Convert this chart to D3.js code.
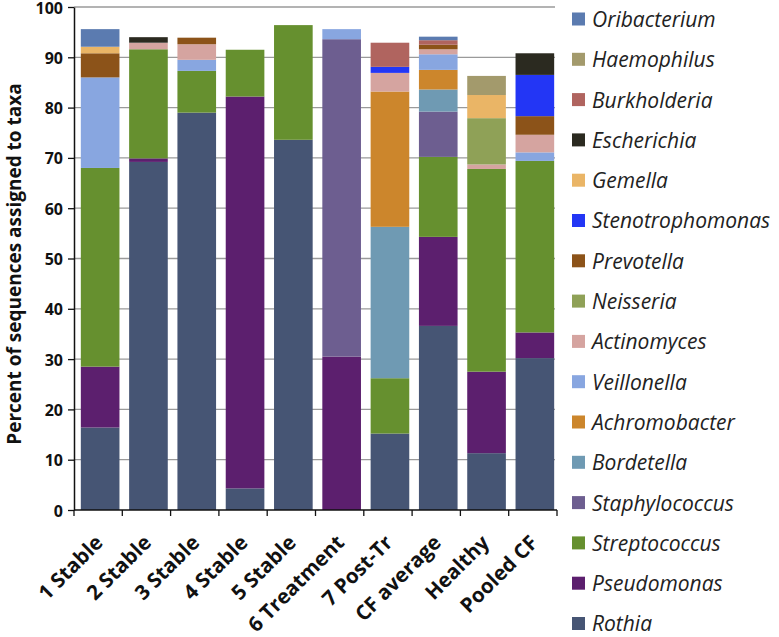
<!DOCTYPE html>
<html><head><meta charset="utf-8">
<script src="https://cdn.jsdelivr.net/npm/d3@7"></script>
<style>body{margin:0;background:#fff}svg{display:block}</style>
</head><body>
<svg id="c" width="779" height="637"></svg>
<script>
const categories = ["1 Stable","2 Stable","3 Stable","4 Stable","5 Stable","6 Treatment","7 Post-Tr","CF average","Healthy","Pooled CF"];
// stack order bottom -> top
const seriesNames = ["Rothia","Pseudomonas","Streptococcus","Staphylococcus","Bordetella","Achromobacter","Veillonella","Actinomyces","Neisseria","Prevotella","Stenotrophomonas","Gemella","Escherichia","Burkholderia","Haemophilus","Oribacterium"];
const Rothia          = [16.4,69.2,79.0, 4.3,73.6, 0.0,15.2,36.6,11.3,30.2];
const Pseudomonas     = [12.1, 0.7, 0.0,77.9, 0.0,30.5, 0.0,17.7,16.2, 5.1];
const Streptococcus   = [39.5,21.7, 8.3, 9.3,22.8, 0.0,11.0,15.9,40.3,34.1];
const Staphylococcus  = [ 0, 0, 0, 0, 0,63.1, 0, 9.0, 0, 0];
const Bordetella      = [ 0, 0, 0, 0, 0, 0,30.1, 4.4, 0, 0];
const Achromobacter   = [ 0, 0, 0, 0, 0, 0,26.9, 3.9, 0, 0];
const Veillonella     = [18.0, 0, 2.2, 0, 0, 2.0, 0, 3.1, 0, 1.7];
const Actinomyces     = [ 0, 1.3, 3.1, 0, 0, 0, 3.7, 1.0, 0.9, 3.5];
const Neisseria       = [ 0, 0, 0, 0, 0, 0, 0, 0, 9.2, 0];
const Prevotella      = [ 4.8, 0, 1.3, 0, 0, 0, 0, 0.9, 0, 3.7];
const Stenotrophomonas= [ 0, 0, 0, 0, 0, 0, 1.2, 0, 0, 8.2];
const Gemella         = [ 1.3, 0, 0, 0, 0, 0, 0, 0, 4.6, 0];
const Escherichia     = [ 0, 1.1, 0, 0, 0, 0, 0, 0, 0, 4.3];
const Burkholderia    = [ 0, 0, 0, 0, 0, 0, 4.8, 0.9, 0, 0];
const Haemophilus     = [ 0, 0, 0, 0, 0, 0, 0, 0, 3.8, 0];
const Oribacterium    = [ 3.5, 0, 0, 0, 0, 0, 0, 0.7, 0, 0];
const seriesValues = [Rothia,Pseudomonas,Streptococcus,Staphylococcus,Bordetella,Achromobacter,Veillonella,Actinomyces,Neisseria,Prevotella,Stenotrophomonas,Gemella,Escherichia,Burkholderia,Haemophilus,Oribacterium];
const colors = ["#465574","#5c1f6e","#66902f","#6d5e90","#6f9ab3","#cc862c","#88a6e0","#d5a4a0","#8fa157","#8c5319","#2336f5","#eab566","#2b2a20","#b0645f","#a39a6c","#5b7bb0"];
const yTicks = [0,10,20,30,40,50,60,70,80,90,100];

const rows = categories.map((c,i)=>{const r={cat:c}; seriesNames.forEach((s,j)=>r[s]=seriesValues[j][i]); return r;});
const stack = d3.stack().keys(seriesNames)(rows);

const svg = d3.select("#c");
const x0=74, x1=557, yTop=7, yBot=510;
const x = d3.scaleBand().domain(categories).range([x0+2,x1+2]).paddingInner(0.2).paddingOuter(0.1);
const y = d3.scaleLinear().domain([0,100]).range([yBot,yTop]);
const color = d3.scaleOrdinal().domain(seriesNames).range(colors);

// grid
svg.append("g").selectAll("line").data(yTicks.filter(t=>t>0)).join("line")
  .attr("x1",x0).attr("x2",555).attr("y1",d=>y(d)).attr("y2",d=>y(d))
  .attr("stroke","#9a9a9a").attr("stroke-width",1.3);

// bars
svg.append("g").selectAll("g").data(stack).join("g").attr("fill",d=>color(d.key))
  .selectAll("rect").data(d=>d).join("rect")
  .attr("x",d=>x(d.data.cat)).attr("width",x.bandwidth())
  .attr("y",d=>y(d[1])).attr("height",d=>Math.max(0,y(d[0])-y(d[1])));

// y axis
const ya = svg.append("g").attr("transform",`translate(${x0},0)`)
  .call(d3.axisLeft(y).tickValues(yTicks).tickSize(6).tickSizeOuter(0));
ya.select(".domain").attr("stroke","#111").attr("stroke-width",1.5);
ya.selectAll(".tick line").attr("stroke","#111").attr("stroke-width",1.3);
ya.selectAll("text").attr("font-family","'Open Sans',sans-serif").attr("font-weight","bold")
  .attr("font-size",16).attr("fill","#111").attr("x",-11).attr("dy","0.38em");

// x axis with ticks at band boundaries
svg.append("line").attr("x1",x0).attr("x2",x1).attr("y1",yBot).attr("y2",yBot).attr("stroke","#111").attr("stroke-width",1.5);
const bounds = d3.range(categories.length+1).map(i=>x0 + i*(x1-x0)/categories.length);
svg.append("g").selectAll("line").data(bounds).join("line")
  .attr("x1",d=>d).attr("x2",d=>d).attr("y1",yBot).attr("y2",yBot+6).attr("stroke","#111").attr("stroke-width",1.3);
svg.append("g").selectAll("text").data(categories).join("text")
  .attr("transform",d=>`translate(${x(d)+x.bandwidth()/2+4},${yBot+34}) rotate(-45)`)
  .attr("text-anchor","end").attr("font-family","'Open Sans',sans-serif").attr("font-weight","bold")
  .attr("font-size",20.5).attr("fill","#111").text(d=>d);

// y title
svg.append("text").attr("transform","translate(21,264) rotate(-90)").attr("text-anchor","middle")
  .attr("font-family","'Open Sans',sans-serif").attr("font-weight","bold").attr("font-size",19).attr("fill","#111")
  .text("Percent of sequences assigned to taxa");

// legend (top to bottom reverse order)
const legendItems = seriesNames.slice().reverse();
const lg = svg.append("g").selectAll("g").data(legendItems).join("g")
  .attr("transform",(d,i)=>`translate(572,${19+i*40.3})`);
lg.append("rect").attr("x",0).attr("y",-6.5).attr("width",13).attr("height",13).attr("fill",d=>color(d));
lg.append("text").attr("x",20).attr("y",0).attr("dy","0.38em").attr("font-family","'Open Sans',sans-serif")
  .attr("font-style","italic").attr("font-size",21).attr("fill","#222").text(d=>d);
</script>
</body></html>
